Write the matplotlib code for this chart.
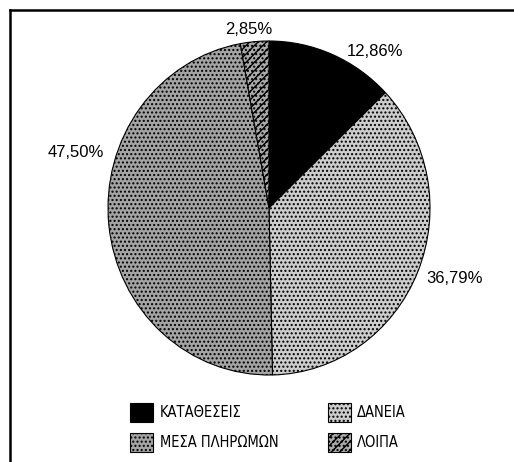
# coding:utf-8
import matplotlib.pyplot as plt
from matplotlib.lines import Line2D

labels = ["ΚΑΤΑΘΕΣΕΙΣ", "ΔΑΝΕΙΑ", "ΜΕΣΑ ΠΛΗΡΩΜΩΝ", "ΛΟΙΠΑ"]
shares = [12.86, 36.79, 47.50, 2.85]
pct_text = ["12,86%", "36,79%", "47,50%", "2,85%"]

colors = ["black", "#cdcdcd", "#a4a4a4", "#ababab"]
hatches = [None, "....", "....", "////...."]
# where each percentage sits (axes data units, pie radius = 1)
label_pos = [(0.66, 0.94), (1.15, -0.42), (-1.20, 0.335), (-0.124, 1.07)]

W, H = 514, 462
fig = plt.figure(figsize=(W / 100, H / 100), dpi=100)

# pie axes: centre ~(269, 208) px, radii 161 x 167 px
cx, cy, rx, ry = 269, 208, 161, 167
ax = fig.add_axes([(cx - rx) / W, (H - cy - ry) / H, 2 * rx / W, 2 * ry / H])
wedges, _ = ax.pie(shares, colors=colors, startangle=90, counterclock=False,
                   wedgeprops=dict(edgecolor="black", linewidth=0.8))
for w, h in zip(wedges, hatches):
    if h:
        w.set_hatch(h)
ax.set_aspect("auto")
ax.set_xlim(-1, 1)
ax.set_ylim(-1, 1)
ax.axis("off")

for (x, y), t in zip(label_pos, pct_text):
    ax.text(x, y, t, ha="center", va="center", fontsize=12,
            family=["Liberation Sans", "DejaVu Sans"])

# legend, filled column-wise -> reorder so rows read left to right
order = [0, 2, 1, 3]
leg = fig.legend([wedges[i] for i in order], [labels[i] for i in order],
                 ncol=2, loc="upper left", bbox_to_anchor=(117 / W, 1 - 390 / H),
                 frameon=False, handlelength=1.6, handleheight=1.6,
                 handletextpad=0.45, labelspacing=0.75, columnspacing=3.35,
                 prop=dict(family="DejaVu Sans", stretch="condensed", size=10.5))

# scanned frame: top and left rules
fig.add_artist(Line2D([10 / W, 1], [1 - 10 / H, 1 - 10 / H], color="black", lw=1.8))
fig.add_artist(Line2D([10 / W, 10 / W], [0, 1 - 10 / H], color="black", lw=1.8))

fig.savefig("out.png", dpi=100)
